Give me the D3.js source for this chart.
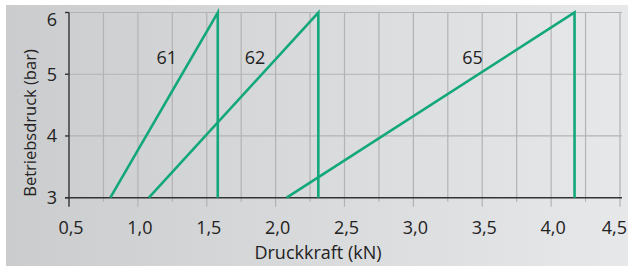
<!DOCTYPE html>
<html>
<head>
<meta charset="utf-8">
<script src="https://cdn.jsdelivr.net/npm/d3@7"></script>
<style>
  body { margin: 0; background: #fff; }
  text { font-family: "Open Sans", sans-serif; fill: #222; }
</style>
</head>
<body>
<div id="chart"></div>
<script>
// Betriebsdruck over Druckkraft for the three sizes
var seriesNames = ["61", "62", "65"];
var startForce = [0.80, 1.08, 2.08];   // kN at 3 bar
var endForce = [1.58, 2.31, 4.17];     // kN at 6 bar
var labelForce = [1.21, 1.85, 3.43];
var labelPressure = 5.17;
var minPressure = 3, maxPressure = 6;

var xTicks = [0.5, 1.0, 1.5, 2.0, 2.5, 3.0, 3.5, 4.0, 4.5];
var yTicks = [3, 4, 5, 6];

var width = 628, height = 266;
var margin = {top: 12.5, right: 8, bottom: 68.3, left: 69};
var green = "#12a87b";
var gridColor = "#b3b3b3";

var svg = d3.select("#chart").append("svg")
    .attr("width", width)
    .attr("height", height);

//Gray panel with a soft horizontal gradient
var grad = svg.append("defs").append("linearGradient")
    .attr("id", "bg")
    .attr("x1", "0%").attr("x2", "100%")
    .attr("y1", "0%").attr("y2", "0%");
grad.append("stop").attr("offset", "0%").attr("stop-color", "#cbcccd");
grad.append("stop").attr("offset", "100%").attr("stop-color", "#e7e8e9");

svg.append("rect")
    .attr("x", 6).attr("y", 5)
    .attr("width", width - 6).attr("height", height - 5)
    .attr("fill", "url(#bg)");

var x = d3.scaleLinear().domain([0.5, 4.5]).range([margin.left, width - margin.right]);
var y = d3.scaleLinear().domain([minPressure, maxPressure]).range([height - margin.bottom, margin.top]);

var fmt = d3.formatLocale({decimal: ",", thousands: ".", grouping: [3], currency: ["", "€"]}).format(".1f");

//Vertical grid every 0.25 kN, reaching below the axis as ticks
var minorTicks = d3.range(0.75, 4.5001, 0.25);
svg.append("g").selectAll("line")
    .data(minorTicks)
    .enter()
    .append("line")
    .attr("x1", function(d) { return x(d); })
    .attr("x2", function(d) { return x(d); })
    .attr("y1", y(maxPressure))
    .attr("y2", function(d) {
        var major = Math.abs(d * 2 - Math.round(d * 2)) < 1e-6;
        return y(minPressure) + (major ? 9 : 4);
    })
    .attr("stroke", gridColor)
    .attr("stroke-width", 1.2);

//Horizontal grid
svg.append("g").selectAll("line")
    .data(yTicks.slice(1))
    .enter()
    .append("line")
    .attr("x1", x(0.5))
    .attr("x2", x(4.5) + 2)
    .attr("y1", function(d) { return y(d); })
    .attr("y2", function(d) { return y(d); })
    .attr("stroke", gridColor)
    .attr("stroke-width", 1.2);

//Axes lines
svg.append("line")
    .attr("x1", x(0.5) - 4).attr("x2", x(4.5) + 2)
    .attr("y1", y(minPressure)).attr("y2", y(minPressure))
    .attr("stroke", "#333").attr("stroke-width", 1.4);
svg.append("line")
    .attr("x1", x(0.5)).attr("x2", x(0.5))
    .attr("y1", y(maxPressure)).attr("y2", y(minPressure) + 9)
    .attr("stroke", "#333").attr("stroke-width", 1.4);

//Y ticks and labels
svg.append("g").selectAll("line")
    .data(yTicks)
    .enter()
    .append("line")
    .attr("x1", x(0.5) - 4).attr("x2", x(0.5))
    .attr("y1", function(d) { return y(d); })
    .attr("y2", function(d) { return y(d); })
    .attr("stroke", "#333").attr("stroke-width", 1.4);

svg.append("g").selectAll("text")
    .data(yTicks)
    .enter()
    .append("text")
    .attr("x", x(0.5) - 12)
    .attr("y", function(d) { return Math.max(y(d), y(maxPressure) + 7) + 6.5; })
    .attr("text-anchor", "end")
    .style("font-size", "18px")
    .text(function(d) { return d; });

//X labels (the last one is kept inside the picture)
svg.append("g").selectAll("text")
    .data(xTicks)
    .enter()
    .append("text")
    .attr("y", 234)
    .attr("text-anchor", "middle")
    .style("font-size", "18px")
    .text(function(d) { return fmt(d); })
    .attr("x", function(d) {
        var half = this.getComputedTextLength() / 2;
        return Math.min(x(d) + 2, width - 1 - half);
    });

//Axis titles
svg.append("text")
    .attr("x", 318)
    .attr("y", 259)
    .attr("text-anchor", "middle")
    .style("font-size", "18px")
    .text("Druckkraft (kN)");

svg.append("text")
    .attr("transform", "translate(35.5,123) rotate(-90)")
    .attr("text-anchor", "middle")
    .style("font-size", "16.5px")
    .text("Betriebsdruck (bar)");

//Curves: rise from start force to 6 bar, then drop straight down
var line = d3.line()
    .x(function(d) { return x(d[0]); })
    .y(function(d) { return y(d[1]); });

svg.append("g").selectAll("path")
    .data(seriesNames)
    .enter()
    .append("path")
    .attr("d", function(d, i) {
        return line([[startForce[i], minPressure], [endForce[i], maxPressure], [endForce[i], minPressure]]);
    })
    .attr("fill", "none")
    .attr("stroke", green)
    .attr("stroke-width", 2.6)
    .attr("stroke-linejoin", "miter");

svg.append("g").selectAll("text")
    .data(seriesNames)
    .enter()
    .append("text")
    .attr("x", function(d, i) { return x(labelForce[i]); })
    .attr("y", y(labelPressure))
    .attr("text-anchor", "middle")
    .style("font-size", "18px")
    .text(function(d) { return d; });
</script>
</body>
</html>
